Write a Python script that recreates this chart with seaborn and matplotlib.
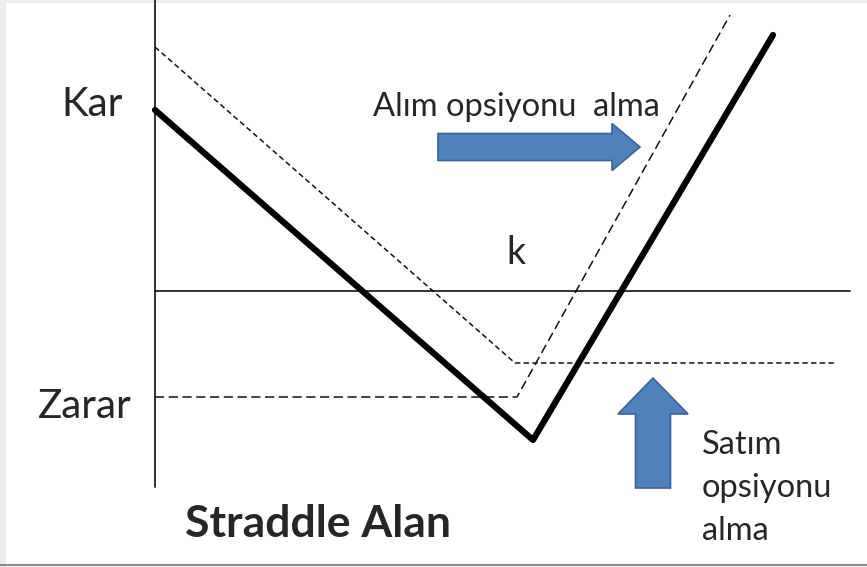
import seaborn as sns
import matplotlib.pyplot as plt

# schematic drawn in picture units (x to the right, y downward)
straddle_x = [155, 533, 773]
straddle_y = [110, 440, 35]

put_x = [155, 515, 835]
put_y = [47, 363, 363]

call_x = [155, 517, 730]
call_y = [397, 397, 15]

axis_v_x = [155, 155]
axis_v_y = [0, 487]
axis_h_x = [155, 850]
axis_h_y = [291, 291]

sns.set_theme(style="white")
plt.rcParams['font.family'] = ['Lato', 'DejaVu Sans']

fig = plt.figure(figsize=(8.67, 5.67), dpi=100)
ax = fig.add_axes([0, 0, 1, 1])
ax.set_xlim(0, 867)
ax.set_ylim(567, 0)
ax.axis("off")

# frame of the screenshot
ax.axvspan(0, 6, color="#ececec", lw=0)
ax.axhspan(0, 3, color="#ececec", lw=0)
ax.axhline(565, color="#8a8a8a", lw=1.5)

# axes of the diagram
sns.lineplot(x=axis_v_x, y=axis_v_y, sort=False, estimator=None,
             color="#222222", lw=1.3, ax=ax)
sns.lineplot(x=axis_h_x, y=axis_h_y, sort=False, estimator=None,
             color="#111111", lw=1.2, ax=ax)

# option payoffs (dashed) and the straddle (thick)
sns.lineplot(x=put_x, y=put_y, sort=False, estimator=None, color="#111111",
             lw=1.1, ax=ax).lines[-1].set_dashes([3.5, 2.2])
sns.lineplot(x=call_x, y=call_y, sort=False, estimator=None, color="#111111",
             lw=1.1, ax=ax).lines[-1].set_dashes([6, 3])
sns.lineplot(x=straddle_x, y=straddle_y, sort=False, estimator=None,
             color="black", lw=4.5, ax=ax)

# blue arrows
ax.arrow(438, 147, 202, 0, width=27, head_width=47, head_length=28,
         length_includes_head=True, fc="#4F81BD", ec="#3A6496", lw=1.2)
ax.arrow(653, 488, 0, -110, width=35, head_width=70, head_length=36,
         length_includes_head=True, fc="#4F81BD", ec="#3A6496", lw=1.2)

# labels
ax.text(92, 105, "Kar", fontsize=29, ha="center", va="center")
ax.text(85, 406, "Zarar", fontsize=29, ha="center", va="center")
ax.text(516, 253, "k", fontsize=27, ha="center", va="center")
ax.text(516, 107, "Alım opsiyonu  alma", fontsize=23.5, ha="center", va="center")
ax.text(318, 524, "Straddle Alan", fontsize=32, fontweight="bold",
        ha="center", va="center")
ax.text(702, 488, "Satım\nopsiyonu\nalma", fontsize=23.5, ha="left",
        va="center", linespacing=1.55)

fig.savefig("out.png", dpi=100)
